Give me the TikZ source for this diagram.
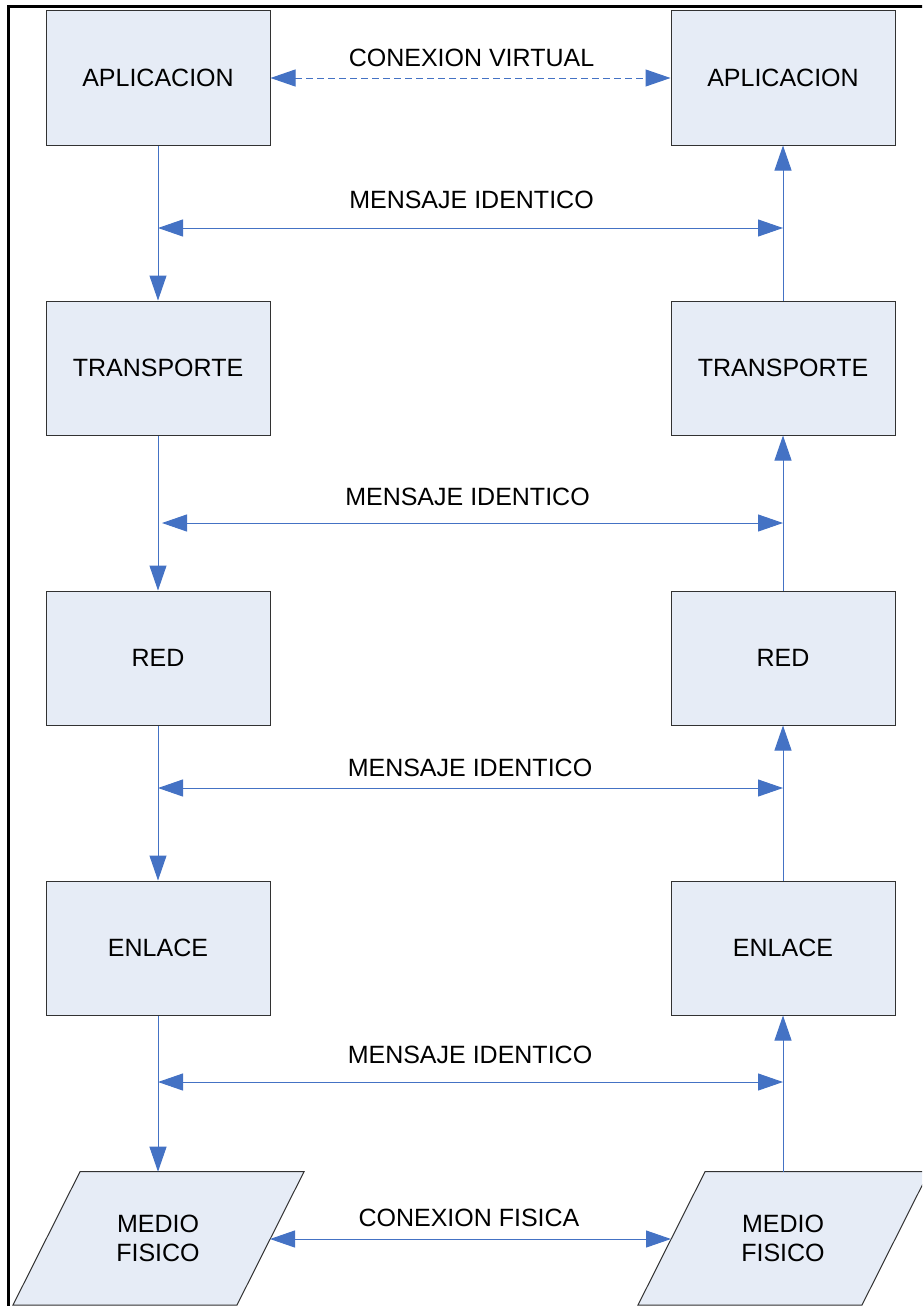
\documentclass[tikz,border=0pt]{standalone}
\usepackage{fontspec}
\setmainfont{Liberation Sans}
\usetikzlibrary{arrows.meta}
\definecolor{linkblue}{RGB}{68,114,196}
\definecolor{layerfill}{RGB}{230,236,246}
\definecolor{layeredge}{RGB}{50,50,50}
\begin{document}
\begin{tikzpicture}[x=1pt,y=-1pt,
  txt/.style={font=\fontsize{25}{29}\selectfont, inner sep=0pt, align=center},
  layer/.style={txt, draw=layeredge, line width=1pt, fill=layerfill,
    minimum width=224pt, minimum height=134pt},
  medium/.style={draw=layeredge, line width=1pt, fill=layerfill},
  flow/.style={draw=linkblue, line width=1pt, -{Triangle[length=25pt,width=17pt]}},
  both/.style={flow, {Triangle[length=25pt,width=17pt]}-{Triangle[length=25pt,width=17pt]}}]
\useasboundingbox (0,0) rectangle (922,1306);
\begin{scope}
\clip (0,0) rectangle (922,1306);
% outer frame
\draw[line width=2.2pt] (8.5,6.5) rectangle (940,1320);

% protocol layers, left stack
\node[layer] (al) at (158,78)  {APLICACION};
\node[layer] (tl) at (158,368) {TRANSPORTE};
\node[layer] (rl) at (158,658) {RED};
\node[layer] (el) at (158,948) {ENLACE};
% protocol layers, right stack
\node[layer] (ar) at (783,78)  {APLICACION};
\node[layer] (tr) at (783,368) {TRANSPORTE};
\node[layer] (rr) at (783,658) {RED};
\node[layer] (er) at (783,948) {ENLACE};

% physical medium on both ends
\draw[medium] (80,1171.7) -- (304,1171.7) -- (237,1305) -- (13,1305) -- cycle;
\draw[medium] (705,1171.7) -- (929,1171.7) -- (862,1305) -- (638,1305) -- cycle;
\node[txt] (ml) at (158,1238) {MEDIO\\FISICO};
\node[txt] (mr) at (783,1238) {MEDIO\\FISICO};
\coordinate (mlt) at (158,1171.7);
\coordinate (mrt) at (783,1171.7);
\coordinate (mle) at (270,1239);
\coordinate (mrw) at (671,1239);

% data going down on the left, up on the right
\draw[flow] (al.south) -- (tl.north);
\draw[flow] (tl.south) -- (rl.north);
\draw[flow] (rl.south) -- (el.north);
\draw[flow] (el.south) -- (mlt);
\draw[flow] (mrt) -- (er.south);
\draw[flow] (er.north) -- (rr.south);
\draw[flow] (rr.north) -- (tr.south);
\draw[flow] (tr.north) -- (ar.south);

% peer connections
\draw[both, dashed, dash pattern=on 7pt off 4pt] (al.east) -- (ar.west);
\node[txt] (cv) at (471.5,58) {CONEXION VIRTUAL};

\coordinate (p1l) at (158,228); \coordinate (p1r) at (783,228);
\coordinate (p2l) at (162,523); \coordinate (p2r) at (783,523);
\coordinate (p3l) at (158,788); \coordinate (p3r) at (783,788);
\coordinate (p4l) at (158,1082); \coordinate (p4r) at (783,1082);
\draw[both] (p1l) -- (p1r);
\draw[both] (p2l) -- (p2r);
\draw[both] (p3l) -- (p3r);
\draw[both] (p4l) -- (p4r);
\node[txt] (m1) at (471.5,200) {MENSAJE IDENTICO};
\node[txt] (m2) at (467.5,497) {MENSAJE IDENTICO};
\node[txt] (m3) at (470,768) {MENSAJE IDENTICO};
\node[txt] (m4) at (470,1055) {MENSAJE IDENTICO};

\draw[both] (mle) -- (mrw);
\node[txt] (cf) at (469,1218) {CONEXION FISICA};
\end{scope}
\end{tikzpicture}
\end{document}
